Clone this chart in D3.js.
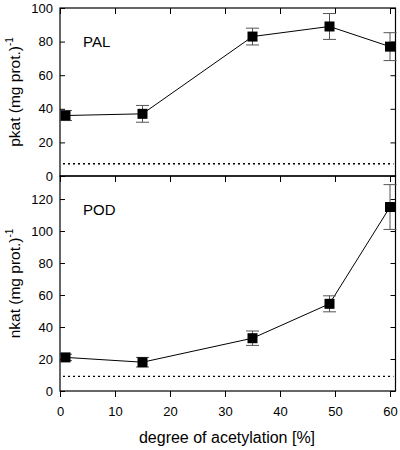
<!DOCTYPE html>
<html><head><meta charset="utf-8">
<script src="https://cdn.jsdelivr.net/npm/d3@7"></script>
<style>body{margin:0;background:#fff}svg{display:block}text{font-family:"Liberation Sans",Arial,sans-serif;fill:#000}</style>
</head><body><svg id="c" width="400" height="450"></svg>
<script>
const xValues = [1, 15, 35, 49, 60];
const palValues = [36, 37, 83, 89, 77];
const palErrors = [3, 5, 5, 7.7, 8.3];
const podValues = [21, 18, 33, 54.5, 115];
const podErrors = [2, 3, 4.5, 5, 14];
const palBaseline = 7.3;
const podBaseline = 9.2;
const xTicks = [0, 10, 20, 30, 40, 50, 60];
const palTicks = [0, 20, 40, 60, 80, 100];
const podTicks = [0, 20, 40, 60, 80, 100, 120];

const svg = d3.select("#c");
const L = 60;
const x = d3.scaleLinear().domain([0, 61]).range([L, L + 61 * 5.5]);

const panels = [
  {name: "PAL", vals: palValues, errs: palErrors, base: palBaseline, ticks: palTicks, dom: [0, 100], top: 8, bottom: 176, unit: "pkat"},
  {name: "POD", vals: podValues, errs: podErrors, base: podBaseline, ticks: podTicks, dom: [0, 134.4], top: 176, bottom: 391, unit: "nkat"}
];

panels.forEach((p, pi) => {
  const y = d3.scaleLinear().domain(p.dom).range([p.bottom, p.top]);
  const g = svg.append("g");
  // frame
  g.append("rect").attr("x", x(0)).attr("y", p.top).attr("width", x(61) - x(0)).attr("height", p.bottom - p.top)
    .attr("fill", "none").attr("stroke", "#000").attr("stroke-width", 1.2);
  // left axis
  const la = g.append("g").attr("transform", `translate(${x(0)},0)`)
    .call(d3.axisLeft(y).tickValues(p.ticks).tickSize(-5).tickPadding(7));
  la.select(".domain").remove();
  la.selectAll("text").style("font-size", "13px");
  // right axis
  const ra = g.append("g").attr("transform", `translate(${x(61)},0)`)
    .call(d3.axisRight(y).tickValues(p.ticks).tickSize(-5).tickFormat(""));
  ra.select(".domain").remove();
  // top axis
  const ta = g.append("g").attr("transform", `translate(0,${p.top})`)
    .call(d3.axisTop(x).tickValues(xTicks).tickSize(-6).tickFormat(""));
  ta.select(".domain").remove();
  // bottom axis (only the lower panel, outward ticks)
  if (pi === 1) {
    const ba = g.append("g").attr("transform", `translate(0,${p.bottom})`)
      .call(d3.axisBottom(x).tickValues(xTicks).tickSize(6).tickPadding(10));
    ba.select(".domain").remove();
    ba.selectAll("text").style("font-size", "13px");
  }
  g.selectAll(".tick line").attr("stroke", "#000").attr("stroke-width", 1);

  // baseline dotted
  g.append("line").attr("x1", x(0) + 3).attr("x2", x(61) - 2).attr("y1", y(p.base)).attr("y2", y(p.base))
    .attr("stroke", "#000").attr("stroke-width", 1.3).attr("stroke-dasharray", "2,3");

  // line
  const pts = xValues.map((xv, i) => [xv, p.vals[i], p.errs[i]]);
  g.append("path").datum(pts).attr("fill", "none").attr("stroke", "#000").attr("stroke-width", 1)
    .attr("d", d3.line().x(d => x(d[0])).y(d => y(d[1])));
  // error bars
  const eb = g.selectAll(".eb").data(pts).enter().append("g").attr("stroke", "#555").attr("stroke-width", 1);
  eb.append("line").attr("x1", d => x(d[0])).attr("x2", d => x(d[0])).attr("y1", d => y(d[1] - d[2])).attr("y2", d => y(d[1] + d[2]));
  eb.append("line").attr("x1", d => x(d[0]) - 6.5).attr("x2", d => x(d[0]) + 6.5).attr("y1", d => y(d[1] - d[2])).attr("y2", d => y(d[1] - d[2]));
  eb.append("line").attr("x1", d => x(d[0]) - 6.5).attr("x2", d => x(d[0]) + 6.5).attr("y1", d => y(d[1] + d[2])).attr("y2", d => y(d[1] + d[2]));
  // markers
  g.selectAll(".m").data(pts).enter().append("rect")
    .attr("x", d => x(d[0]) - 5).attr("y", d => y(d[1]) - 5).attr("width", 10).attr("height", 10).attr("fill", "#000");

  // panel label
  g.append("text").attr("x", 83).attr("y", p.top + 39).style("font-size", "15px").text(p.name);

  // y title
  const cy = (p.top + p.bottom) / 2;
  const t = g.append("text").attr("transform", `translate(20,${cy}) rotate(-90)`).attr("text-anchor", "middle").style("font-size", "15.5px");
  t.append("tspan").text(p.unit + " (mg prot.)");
  t.append("tspan").attr("dy", -7).style("font-size", "10px").text("-1");
});

svg.append("text").attr("x", x(30) + 2).attr("y", 443).attr("text-anchor", "middle").style("font-size", "16px").text("degree of acetylation [%]");
</script></body></html>
